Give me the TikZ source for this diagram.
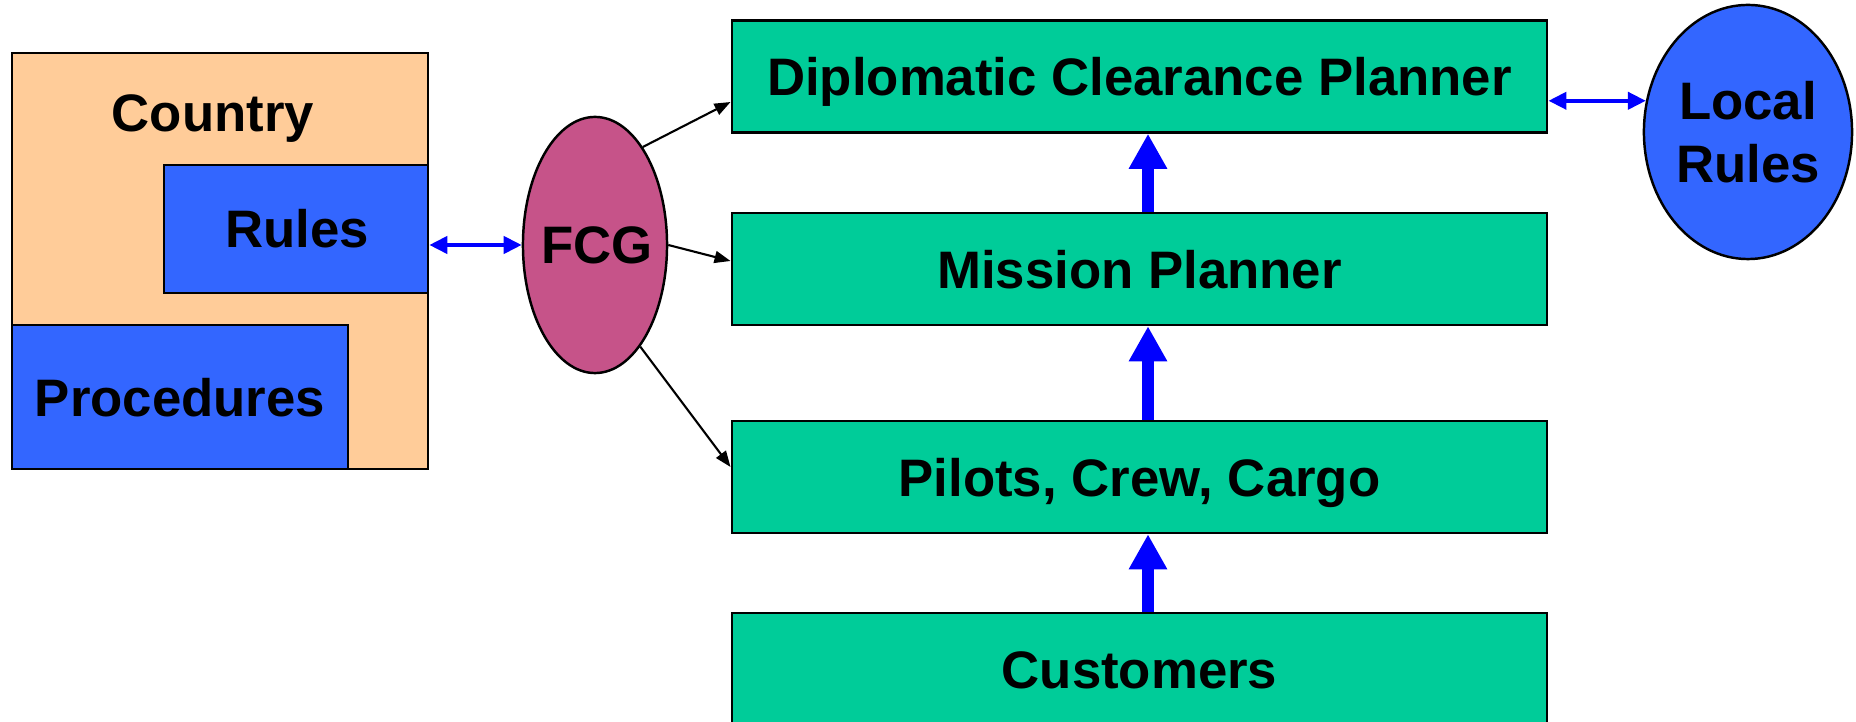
\documentclass[tikz,border=0pt]{standalone}
\usepackage{fontspec}
\setmainfont{Liberation Sans}
\usepackage{xcolor}
\usepackage{tikz}
\usetikzlibrary{arrows.meta}
\usetikzlibrary{shapes,shapes.geometric}
\tikzset{>=stealth}
\definecolor{planGreen}{HTML}{00CC99}
\definecolor{ruleBlue}{HTML}{3366FF}
\definecolor{countryPeach}{HTML}{FFCC99}
\definecolor{fcgPink}{HTML}{C65389}
\tikzset{
  planbox/.style={draw=black, line width=0.7pt, fill=planGreen, minimum width=8.15cm, minimum height=1.12cm, inner sep=0pt, text height=0.38cm, text depth=0pt},
  bigtext/.style={font=\fontsize{15}{18}\selectfont\bfseries},
  bluebox/.style={draw=black, line width=0.7pt, fill=ruleBlue, inner sep=0pt},
  upflow/.style={-{Triangle[length=0.35cm,width=0.36cm]}, line width=0.12cm, blue},
  swap/.style={{Triangle[length=0.18cm,width=0.17cm]}-{Triangle[length=0.18cm,width=0.17cm]}, line width=0.04cm, blue},
  feed/.style={-{Triangle[length=0.16cm,width=0.12cm]}, line width=0.6pt, black}
}

\begin{document}
\begin{tikzpicture}[x=0.01cm, y=-0.01cm]
      \useasboundingbox (0,0) rectangle (1856,722);
      % country with its rules and procedures
      \node[draw=black, line width=0.7pt, fill=countryPeach, minimum width=4.16cm, minimum height=4.16cm, inner sep=0pt] (country) at (220,261) {};
      \node[bluebox, minimum width=2.64cm, minimum height=1.28cm] (rules) at (296,229) {};
      \node[bluebox, minimum width=3.36cm, minimum height=1.44cm] (procedures) at (180,397) {};
      \node[bigtext, anchor=base] (countrytext) at (213,132) {Country};
      \node[bigtext, anchor=base] (rulestext) at (297,248) {Rules};
      \node[bigtext, anchor=base] (procedurestext) at (180,417) {Procedures};
      % FCG and local rules
      \node[ellipse, draw=black, line width=0.7pt, fill=fcgPink, minimum width=1.44cm, minimum height=2.56cm, inner sep=0pt] (fcg) at (595,245) {};
      \node[bigtext, anchor=base] (fcgtext) at (597,264) {FCG};
      \node[ellipse, draw=black, line width=0.7pt, fill=ruleBlue, minimum width=2.08cm, minimum height=2.54cm, inner sep=0pt] (local) at (1748,132) {};
      \node[bigtext, anchor=base] (localtext) at (1748,120) {Local};
      \node[bigtext, anchor=base] (localrules) at (1748,183) {Rules};
      % planner stack
      \node[planbox, bigtext] (dcp) at (1139.5,76.5) {Diplomatic Clearance Planner};
      \node[planbox, bigtext] (mission) at (1139.5,269) {Mission Planner};
      \node[planbox, bigtext] (pilots) at (1139.5,477) {Pilots, Crew, Cargo};
      \node[planbox, bigtext] (customers) at (1139.5,669) {Customers};
      \draw[upflow] ([xshift=0.085cm]customers.north) -- ([xshift=0.085cm]pilots.south);
      \draw[upflow] ([xshift=0.085cm]pilots.north) -- ([xshift=0.085cm]mission.south);
      \draw[upflow] ([xshift=0.085cm]mission.north) -- ([xshift=0.085cm]dcp.south);
      % exchanges
      \draw[swap] (rules.east |- fcg.west) -- (fcg.west);
      \draw[swap] (dcp.east |- local.163.5) -- (local.163.5);
      \draw[feed] (fcg.64) -- ([yshift=-0.255cm]dcp.west);
      \draw[feed] (fcg.east) -- ([yshift=0.08cm]mission.west);
      \draw[feed] (fcg.-66) -- ([yshift=0.1cm]pilots.west);
    \end{tikzpicture}
\end{document}
